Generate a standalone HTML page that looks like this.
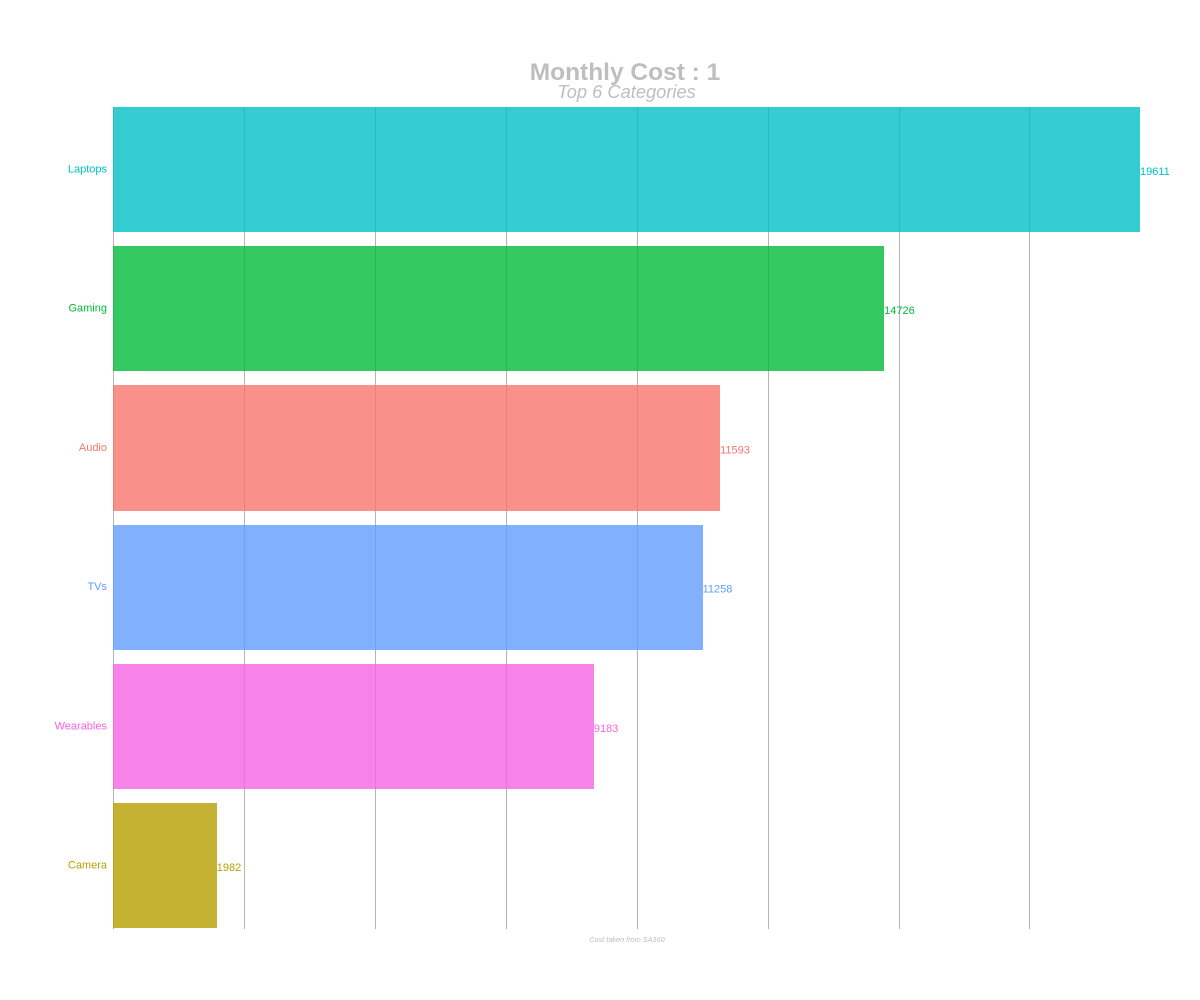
<!DOCTYPE html>
<html>
<head>
<meta charset="utf-8">
<title>Monthly Cost</title>
<style>
html,body{margin:0;padding:0;background:#fff;}
svg{display:block;font-family:"Liberation Sans",Arial,sans-serif;}
</style>
</head>
<body>
<svg id="chart" width="1200" height="1000" viewBox="0 0 1200 1000" xmlns="http://www.w3.org/2000/svg">
  <rect x="0" y="0" width="1200" height="1000" fill="#ffffff"/>
  <text x="625" y="80" text-anchor="middle" font-size="24.5" font-weight="bold" fill="#bebebe">Monthly Cost : 1</text>
  <text x="626.5" y="98" text-anchor="middle" font-size="18.3" font-style="italic" fill="#bebebe">Top 6 Categories</text>
  <g id="grid"></g>
  <g id="bars"></g>
  <g id="cats"></g>
  <g id="vals"></g>
  <text x="627" y="942" text-anchor="middle" font-size="7.3" font-style="italic" fill="#bebebe">Cost taken from SA360</text>
</svg>
<script>
const categories = ['Laptops', 'Gaming', 'Audio', 'TVs', 'Wearables', 'Camera'];
const values = [19611, 14726, 11593, 11258, 9183, 1982];
const colors = ['#00BFC4', '#00BA38', '#F8766D', '#619CFF', '#F564E3', '#B79F00'];
const gridTicks = [0, 2500, 5000, 7500, 10000, 12500, 15000, 17500];

const NS = 'http://www.w3.org/2000/svg';
const plotLeft = 113, plotTop = 107, bandStep = 139.2, barHeight = 125.2, pxPerUnit = 1027 / 19611;
const plotBottom = 929;

function xScale(v) { return plotLeft + v * pxPerUnit; }
function yBand(i) { return plotTop + i * bandStep; }

function make(tag, attrs, text) {
  const el = document.createElementNS(NS, tag);
  for (const k in attrs) el.setAttribute(k, attrs[k]);
  if (text !== undefined) el.textContent = text;
  return el;
}

const gridG = document.getElementById('grid');
const barsG = document.getElementById('bars');
const catsG = document.getElementById('cats');
const valsG = document.getElementById('vals');

gridTicks.forEach(function (t) {
  const x = Math.round(xScale(t)) + 0.5;
  const line = make('line', { x1: x, x2: x, y1: plotTop, y2: plotBottom, stroke: '#b5b5b5', 'stroke-width': 1 });
  
  
  gridG.appendChild(line);
});

categories.forEach(function (c, i) {
  const top = Math.round(yBand(i));
  const bottom = Math.round(yBand(i) + barHeight);
  const right = xScale(values[i]);
  const bar = make('rect', { x: plotLeft, y: top, width: Math.round(right) - plotLeft, height: bottom - top, fill: colors[i], 'fill-opacity': 0.8 });
  
  
  barsG.appendChild(bar);

  const label = make('text', { x: 107, y: yBand(i) + 65.5, 'text-anchor': 'end', 'font-size': 11, fill: colors[i] }, c);
  
  
  catsG.appendChild(label);

  const val = make('text', { x: right, y: yBand(i) + 68, 'font-size': 11, fill: colors[i] }, String(values[i]));
  
  
  valsG.appendChild(val);
});
</script>
</body>
</html>
